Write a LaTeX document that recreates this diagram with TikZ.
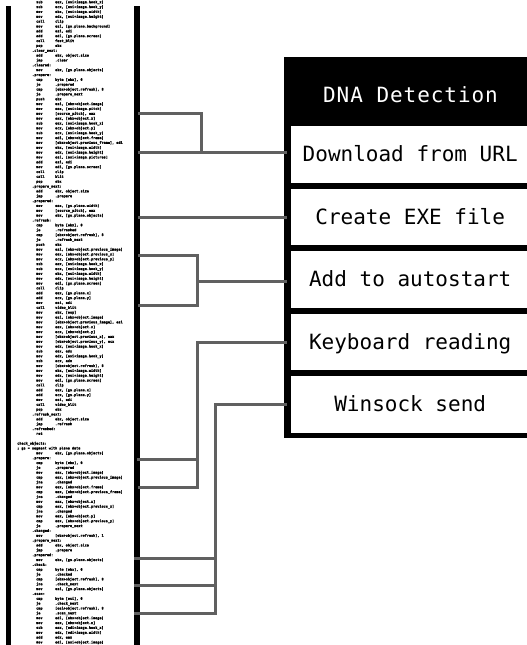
\documentclass[tikz,border=0pt]{standalone}
\usepackage{fontspec}
\newfontfamily\stagefont{DejaVu Sans Mono}
\newfontfamily\headfont[LetterSpace=4.5]{DejaVu Sans Mono}
\newfontfamily\listfont[FakeBold=1.2]{DejaVu Sans Mono Bold}
\definecolor{wiregray}{RGB}{96,96,96}

% one line of the assembly listing: instruction, local label, global label, empty line
\newcommand\asmop[2]{\hbox{\hspace*{19pt}\makebox[19pt][l]{#1}\detokenize{#2}}}
\newcommand\asmlocal[1]{\hbox{\hspace*{15pt}\detokenize{#1}}}
\newcommand\asmglobal[1]{\hbox{\detokenize{#1}}}
\newcommand\asmgap{\hbox{}}

\begin{document}
\begin{tikzpicture}[x=1pt, y=-1pt,
  wire/.style={draw=wiregray, line width=3pt},
  rulebar/.style={fill=black, inner sep=0pt, minimum height=645pt, anchor=north west},
  stagebox/.style={fill=white, inner sep=0pt, anchor=north west,
    minimum width=238pt, minimum height=56.5pt, text height=15pt, text depth=0pt,
    font=\stagefont\fontsize{21}{21}\selectfont}]
\clip (0,0) rectangle (527,645);
\fill[white] (0,0) rectangle (527,645);

% assembly listing
\node[anchor=north west, inner sep=0pt,
      font=\listfont\fontsize{3.5}{4.85}\selectfont] (listing) at (17,0.2) {%
\parbox[t]{115pt}{%
\asmop{sub}{eax, [esi+image.hook_x]}
\asmop{sub}{ecx, [esi+image.hook_y]}
\asmop{mov}{ebx, [esi+image.width]}
\asmop{mov}{edx, [esi+image.height]}
\asmop{call}{clip}
\asmop{mov}{esi, [gs.plane.background]}
\asmop{add}{esi, edi}
\asmop{add}{edi, [gs.plane.screen]}
\asmop{call}{fast_blit}
\asmop{pop}{ebx}
\asmlocal{.clear_next:}
\asmop{add}{ebx, object.size}
\asmop{jmp}{.clear}
\asmlocal{.cleared:}
\asmop{mov}{ebx, [gs.plane.objects]}
\asmlocal{.prepare:}
\asmop{cmp}{byte [ebx], 0}
\asmop{je}{.prepared}
\asmop{cmp}{[ebx+object.refresh], 0}
\asmop{je}{.prepare_next}
\asmop{push}{ebx}
\asmop{mov}{esi, [ebx+object.image]}
\asmop{mov}{eax, [esi+image.pitch]}
\asmop{mov}{[source_pitch], eax}
\asmop{mov}{eax, [ebx+object.x]}
\asmop{sub}{eax, [esi+image.hook_x]}
\asmop{mov}{ecx, [ebx+object.y]}
\asmop{sub}{ecx, [esi+image.hook_y]}
\asmop{mov}{edi, [ebx+object.frame]}
\asmop{mov}{[ebx+object.previous_frame], edi}
\asmop{mov}{ebx, [esi+image.width]}
\asmop{mov}{edx, [esi+image.height]}
\asmop{mov}{esi, [esi+image.pictures]}
\asmop{add}{esi, edi}
\asmop{mov}{edi, [gs.plane.screen]}
\asmop{call}{clip}
\asmop{call}{blit}
\asmop{pop}{ebx}
\asmlocal{.prepare_next:}
\asmop{add}{ebx, object.size}
\asmop{jmp}{.prepare}
\asmlocal{.prepared:}
\asmop{mov}{eax, [gs.plane.width]}
\asmop{mov}{[source_pitch], eax}
\asmop{mov}{ebx, [gs.plane.objects]}
\asmlocal{.refresh:}
\asmop{cmp}{byte [ebx], 0}
\asmop{je}{.refreshed}
\asmop{cmp}{[ebx+object.refresh], 0}
\asmop{je}{.refresh_next}
\asmop{push}{ebx}
\asmop{mov}{esi, [ebx+object.previous_image]}
\asmop{mov}{eax, [ebx+object.previous_x]}
\asmop{mov}{ecx, [ebx+object.previous_y]}
\asmop{sub}{eax, [esi+image.hook_x]}
\asmop{sub}{ecx, [esi+image.hook_y]}
\asmop{mov}{ebx, [esi+image.width]}
\asmop{mov}{edx, [esi+image.height]}
\asmop{mov}{edi, [gs.plane.screen]}
\asmop{call}{clip}
\asmop{add}{eax, [gs.plane.x]}
\asmop{add}{ecx, [gs.plane.y]}
\asmop{mov}{esi, edi}
\asmop{call}{video_blit}
\asmop{mov}{ebx, [esp]}
\asmop{mov}{esi, [ebx+object.image]}
\asmop{mov}{[ebx+object.previous_image], esi}
\asmop{mov}{eax, [ebx+object.x]}
\asmop{mov}{ecx, [ebx+object.y]}
\asmop{mov}{[ebx+object.previous_x], eax}
\asmop{mov}{[ebx+object.previous_y], ecx}
\asmop{mov}{edx, [esi+image.hook_x]}
\asmop{sub}{eax, edx}
\asmop{mov}{edx, [esi+image.hook_y]}
\asmop{sub}{ecx, edx}
\asmop{mov}{[ebx+object.refresh], 0}
\asmop{mov}{ebx, [esi+image.width]}
\asmop{mov}{edx, [esi+image.height]}
\asmop{mov}{edi, [gs.plane.screen]}
\asmop{call}{clip}
\asmop{add}{eax, [gs.plane.x]}
\asmop{add}{ecx, [gs.plane.y]}
\asmop{mov}{esi, edi}
\asmop{call}{video_blit}
\asmop{pop}{ebx}
\asmlocal{.refresh_next:}
\asmop{add}{ebx, object.size}
\asmop{jmp}{.refresh}
\asmlocal{.refreshed:}
\asmop{ret}{}
\asmgap
\asmglobal{check_objects:}
\asmglobal{; gs = segment with plane data}
\asmop{mov}{ebx, [gs.plane.objects]}
\asmlocal{.prepare:}
\asmop{cmp}{byte [ebx], 0}
\asmop{je}{.prepared}
\asmop{mov}{eax, [ebx+object.image]}
\asmop{cmp}{eax, [ebx+object.previous_image]}
\asmop{jne}{.changed}
\asmop{mov}{eax, [ebx+object.frame]}
\asmop{cmp}{eax, [ebx+object.previous_frame]}
\asmop{jne}{.changed}
\asmop{mov}{eax, [ebx+object.x]}
\asmop{cmp}{eax, [ebx+object.previous_x]}
\asmop{jne}{.changed}
\asmop{mov}{eax, [ebx+object.y]}
\asmop{cmp}{eax, [ebx+object.previous_y]}
\asmop{je}{.prepare_next}
\asmlocal{.changed:}
\asmop{mov}{[ebx+object.refresh], 1}
\asmlocal{.prepare_next:}
\asmop{add}{ebx, object.size}
\asmop{jmp}{.prepare}
\asmlocal{.prepared:}
\asmop{mov}{ebx, [gs.plane.objects]}
\asmlocal{.check:}
\asmop{cmp}{byte [ebx], 0}
\asmop{je}{.checked}
\asmop{cmp}{[ebx+object.refresh], 0}
\asmop{jne}{.check_next}
\asmop{mov}{esi, [gs.plane.objects]}
\asmlocal{.scan:}
\asmop{cmp}{byte [esi], 0}
\asmop{je}{.check_next}
\asmop{cmp}{[esi+object.refresh], 0}
\asmop{je}{.scan_next}
\asmop{mov}{edi, [ebx+object.image]}
\asmop{mov}{eax, [ebx+object.x]}
\asmop{sub}{eax, [edi+image.hook_x]}
\asmop{mov}{edx, [edi+image.width]}
\asmop{add}{edx, eax}
\asmop{mov}{edi, [esi+object.image]}
\asmop{mov}{ecx, [esi+object.x]}
}};

% side rules of the listing
\node[rulebar, minimum width=5pt] (lrule) at (6,6) {};
\node[rulebar, minimum width=6pt] (rrule) at (134,6) {};

% detection panel
\node[fill=black, inner sep=0pt, anchor=north west,
      minimum width=252pt, minimum height=381pt] (frame) at (284,57) {};
\node[text=white, inner sep=0pt, text height=15pt, text depth=0pt,
      font=\headfont\fontsize{21}{21}\selectfont] (title) at (410.5,95) {DNA Detection};
\foreach \i/\t in {1/Download from URL, 2/Create EXE file, 3/Add to autostart,
                   4/Keyboard reading, 5/Winsock send}
  \node[stagebox] (b\i) at (291,{126+62.5*(\i-1)}) {\t};

% taps on the listing and wire junctions
\coordinate (t1) at (138,113);
\coordinate (t2) at (138,152);
\coordinate (t3) at (138,217);
\coordinate (t4) at (138,255);
\coordinate (t5) at (138,305);
\coordinate (t6) at (137,459);
\coordinate (t7) at (138,487);
\coordinate (t8) at (134,558);
\coordinate (t9) at (134,585);
\coordinate (t10) at (134,613);
\coordinate (j1) at (201,152);
\coordinate (j3) at (197,281);
\coordinate (j4) at (197,342);
\coordinate (j5) at (215,404);

% wires
\draw[wire] (t1) -| (j1);
\draw[wire] (t2) -- ([xshift=3pt]t2 -| frame.west);
\draw[wire] (t3) -- ([xshift=3pt]t3 -| frame.west);
\draw[wire] (t4) -| (j3) |- (t5);
\draw[wire] (j3) -- ([xshift=3pt]j3 -| frame.west);
\draw[wire] ([xshift=3pt]j4 -| frame.west) -- (j4) |- (t7);
\draw[wire] (t6) -- (t6 -| j4);
\draw[wire] ([xshift=3pt]j5 -| frame.west) -- (j5) |- (t10);
\draw[wire] (t8) -- (t8 -| j5);
\draw[wire] (t9) -- (t9 -| j5);
\end{tikzpicture}
\end{document}
